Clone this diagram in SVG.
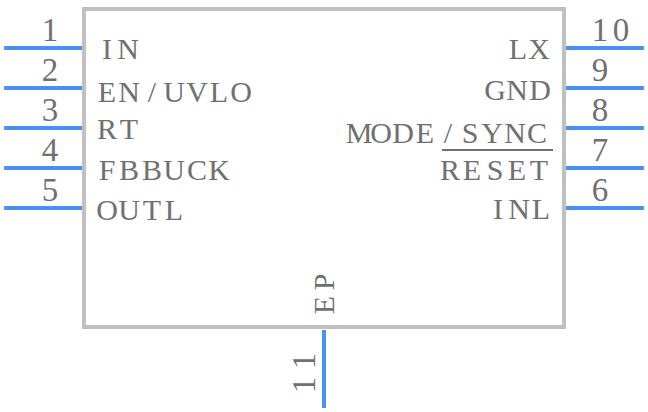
<svg xmlns="http://www.w3.org/2000/svg" width="648" height="412" viewBox="0 0 648 412">
<style>
.pin{stroke:#4a90f0;stroke-width:4;fill:none}
.body{stroke:#c0c0c0;stroke-width:4;fill:#fff}
text{font-family:"Liberation Serif","Times New Roman",serif;font-size:30px;fill:#707070;text-anchor:middle}
.n{font-size:33px}
</style>
<rect width="648" height="412" fill="#fff"/>
<g id="body"><rect class="body" x="84" y="9" width="480" height="318"/></g>
<g id="connectors">
<path class="pin" d="M4 48H82M4 88H82M4 128H82M4 168H82M4 208H82M566 48H644M566 88H644M566 128H644M566 168H644M566 208H644M324 330V408"/>
<path d="M442 150H553" stroke="#707070" stroke-width="2" fill="none"/>
</g>
<g id="pin1"><text class="n" x="50" y="41">1</text><text x="107 128" y="59">IN</text></g>
<g id="pin2"><text class="n" x="50" y="81">2</text><text x="107 129 152 174 197 219 241" y="102">EN/UVLO</text></g>
<g id="pin3"><text class="n" x="50" y="121">3</text><text x="107 129" y="139">RT</text></g>
<g id="pin4"><text class="n" x="50" y="161">4</text><text x="107 129 152 174 197 219" y="180">FBBUCK</text></g>
<g id="pin5"><text class="n" x="50" y="201">5</text><text x="107 129 152 174" y="220">OUTL</text></g>
<g id="pin10"><text class="n" x="600 621" y="41">10</text><text x="518 539" y="59">LX</text></g>
<g id="pin9"><text class="n" x="600" y="81">9</text><text x="495 517 540" y="100">GND</text></g>
<g id="pin8"><text class="n" x="600" y="121">8</text><text x="359 381 403 425 448 470 492 515 537" y="143">MODE/SYNC</text></g>
<g id="pin7"><text class="n" x="600" y="161">7</text><text x="450 472 495 517 539" y="180">RESET</text></g>
<g id="pin6"><text class="n" x="600" y="201">6</text><text x="498 519 541" y="219">INL</text></g>
<g id="pin11"><text class="n" transform="translate(315 0) rotate(-90)" x="-385 -361" y="0">11</text><text transform="translate(334 0) rotate(-90)" x="-305 -282" y="0">EP</text></g>
</svg>
